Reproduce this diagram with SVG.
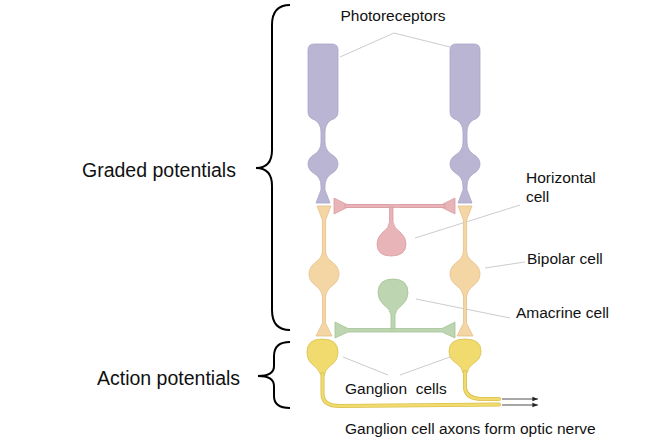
<svg xmlns="http://www.w3.org/2000/svg" width="655" height="443" viewBox="0 0 655 443">
<defs>
<style>
text{font-family:"Liberation Sans",Arial,sans-serif;fill:#111}
.lbl{font-size:15.5px}
.big{font-size:19.5px}
.lead{stroke:#ccc;stroke-width:1;fill:none}
.photo{fill:#bbb5d4;stroke:#aaa3c8;stroke-width:0.8}
.bip{fill:#f4d5a4;stroke:#e6c08a;stroke-width:0.8}
.hor{fill:#e8b4b8;stroke:#d79da2;stroke-width:0.8}
.ama{fill:#bdd5b0;stroke:#a3c395;stroke-width:0.8}
.gan{fill:#f1da6e;stroke:#d8c24e;stroke-width:0.8}
.axon{fill:none;stroke:#d8c24e;stroke-width:4;stroke-linecap:round}
.axin{fill:none;stroke:#f1da6e;stroke-width:2.4;stroke-linecap:round}
.brace{fill:none;stroke:#000;stroke-width:2}
</style>
<marker id="ah" viewBox="0 0 10 10" refX="10" refY="5" markerWidth="7" markerHeight="7" orient="auto"><path d="M0,1 L10,5 L0,9 Z" fill="#222"/></marker>
<g id="photoShape">
<path d="M-15,-110 Q-15,-116 -9,-116 L9,-116 Q15,-116 15,-110 L15,-48 Q15,-42 8,-40 Q2,-36 2,-28 L2,-18 Q2,-10 8,-6 Q15,-2 15,4 Q15,10 8,14 Q2,18 2,26 L2,30 L7,43 L-7,43 L-2,30 L-2,26 Q-2,18 -8,14 Q-15,10 -15,4 Q-15,-2 -8,-6 Q-2,-10 -2,-18 L-2,-28 Q-2,-36 -8,-40 Q-15,-42 -15,-48 Z" class="photo"/>
</g>
<g id="bipShape">
<path d="M-7,0 L7,0 L1.6,14 L1.6,45 Q2,52 8,56 Q15,61 15,68 Q15,75 8,80 Q2,84 1.5,92 L1.5,117 L8,130 L-8,130 L-1.5,117 L-1.5,92 Q-2,84 -8,80 Q-15,75 -15,68 Q-15,61 -8,56 Q-2,52 -1.6,45 L-1.6,14 Z" class="bip"/>
</g>
</defs>

<g id="braces">
<path class="brace" d="M290,5 Q272,5 272,25 L272,150 Q272,168 256,168 Q272,168 272,186 L272,310 Q272,330 290,330"/>
<path class="brace" d="M290,342 Q274,342 274,356 L274,366 Q274,376 258,376 Q274,376 274,386 L274,396 Q274,408 290,408"/>
</g>

<g id="connectors">
<polyline class="lead" points="340,57 394,33 450,47"/>
<line class="lead" x1="415" y1="238" x2="520" y2="205"/>
<line class="lead" x1="485" y1="268" x2="525" y2="262"/>
<line class="lead" x1="416" y1="299" x2="510" y2="318"/>
<polyline class="lead" points="343,357 388,375"/>
<polyline class="lead" points="400,375 450,357"/>
<line x1="502" y1="399" x2="538" y2="399" stroke="#222" stroke-width="0.8" marker-end="url(#ah)"/>
<line x1="502" y1="405" x2="538" y2="405" stroke="#222" stroke-width="0.8" marker-end="url(#ah)"/>
</g>

<g id="photoreceptor-left"><use href="#photoShape" x="323" y="160"/></g>
<g id="photoreceptor-right"><use href="#photoShape" x="465" y="160"/></g>

<g id="bipolar-left"><use href="#bipShape" x="324" y="206"/></g>
<g id="bipolar-right"><use href="#bipShape" x="465" y="206"/></g>

<g id="horizontal-cell">
<path class="hor" d="M334,198 L347,204.5 L389.5,204.5 L389.5,207.5 L347,207.5 L334,214 Z"/>
<path class="hor" d="M455,198 L442,204.5 L400,204.5 L400,207.5 L442,207.5 L455,214 Z"/>
<rect class="hor" x="345" y="204.5" width="100" height="3" stroke="none"/>
<path class="hor" d="M389.5,207 L393,207 L393,222 Q394,228 400,232 Q406,237 406,244 Q406,256 391,256 Q377,256 377,244 Q377,237 383,232 Q389,228 389.5,222 Z"/>
</g>

<g id="amacrine-cell">
<path class="ama" d="M335,322 L348,328.5 L442,328.5 L455,322 L455,338 L442,332 L348,332 L335,338 Z"/>
<path class="ama" d="M391,329 L395,329 L395,315 Q396,309 402,305 Q408,300 408,293 Q408,279 393,279 Q378,279 378,293 Q378,300 384,305 Q390,309 391,315 Z"/>
</g>

<g id="ganglion-left">
<path class="gan" d="M321,375 Q318,368 312,364 Q307,360 307,352 Q307,339 322,339 Q338,339 338,352 Q338,361 330,366 Q325,370 324,376 Z"/>
</g>
<g id="ganglion-right">
<path class="gan" d="M463,373 Q462,367 456,363 Q449,359 449,351 Q449,339 465,339 Q481,339 481,351 Q481,359 474,363 Q468,367 467,373 Z"/>
</g>
<g id="axons">
<path class="axon" d="M322.5,374 L322.5,394 Q322.5,406 340,406 L499,404.5"/>
<path class="axin" d="M322.5,374 L322.5,394 Q322.5,406 340,406 L499,404.5"/>
<path class="axon" d="M465,372 L465,388 Q466,398 480,399 L499,399"/>
<path class="axin" d="M465,372 L465,388 Q466,398 480,399 L499,399"/>
</g>

<g id="labels">
<text class="lbl" x="393" y="21" text-anchor="middle">Photoreceptors</text>
<text class="lbl" x="526" y="183">Horizontal</text>
<text class="lbl" x="526" y="202">cell</text>
<text class="lbl" x="527" y="264">Bipolar cell</text>
<text class="lbl" x="516" y="318">Amacrine cell</text>
<text class="lbl" x="345" y="394" xml:space="preserve">Ganglion  cells</text>
<text class="lbl" x="345" y="434">Ganglion cell axons form optic nerve</text>
<text class="big" x="82" y="177">Graded potentials</text>
<text class="big" x="97" y="385">Action potentials</text>
</g>
</svg>
